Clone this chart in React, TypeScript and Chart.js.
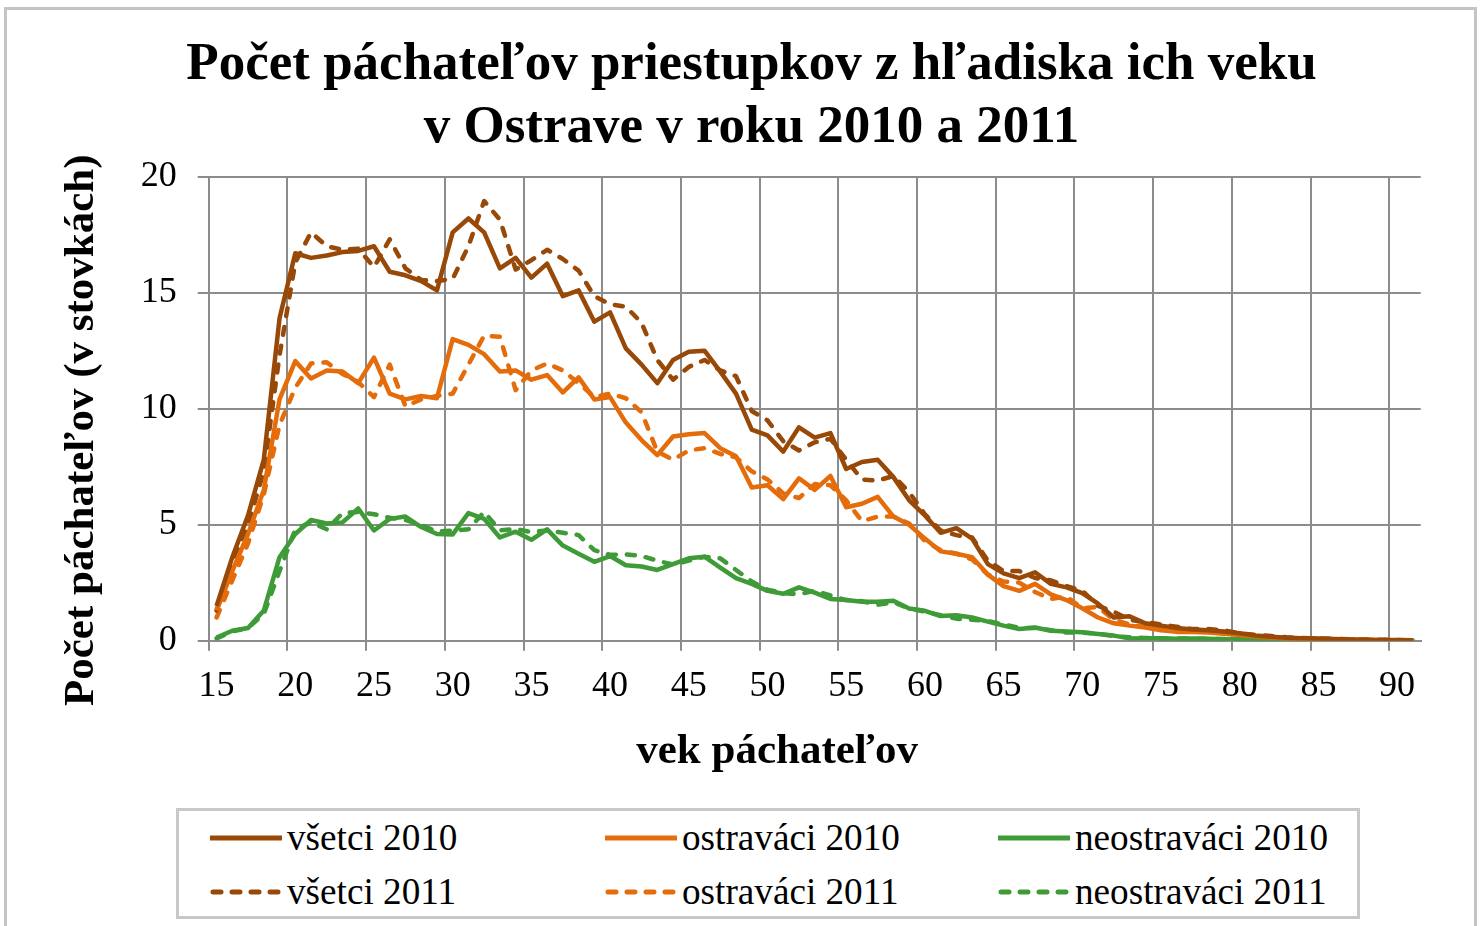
import React, { useEffect, useRef } from "react";
import { Chart, registerables } from "chart.js";

Chart.register(...registerables);

const FONT = "'Liberation Serif', 'Times New Roman', Times, serif";

// Age categories (x axis)
const ages = [
  15, 16, 17, 18, 19, 20, 21, 22, 23, 24,
  25, 26, 27, 28, 29, 30, 31, 32, 33, 34,
  35, 36, 37, 38, 39, 40, 41, 42, 43, 44,
  45, 46, 47, 48, 49, 50, 51, 52, 53, 54,
  55, 56, 57, 58, 59, 60, 61, 62, 63, 64,
  65, 66, 67, 68, 69, 70, 71, 72, 73, 74,
  75, 76, 77, 78, 79, 80, 81, 82, 83, 84,
  85, 86, 87, 88, 89, 90, 91,
];

// x tick labels that are shown
const shownAgeTicks = [15, 20, 25, 30, 35, 40, 45, 50, 55, 60, 65, 70, 75, 80, 85, 90];

// y axis ticks
const yTicks = [0, 5, 10, 15, 20];

const titleLines = [
  "Počet páchateľov priestupkov z hľadiska ich veku",
  "v Ostrave v roku 2010 a 2011",
];
const xTitle = "vek páchateľov";
const yTitle = "Počet páchateľov (v stovkách)";

// values in hundreds
const vsetci2010 = [
  1.5, 3.6, 5.4, 7.8, 13.9, 16.7, 16.5, 16.6, 16.75, 16.8,
  17.0, 15.9, 15.75, 15.5, 15.1, 17.6, 18.2, 17.6, 16.05, 16.5,
  15.65, 16.25, 14.85, 15.1, 13.75, 14.15, 12.6, 11.9, 11.1, 12.1,
  12.45, 12.5, 11.6, 10.65, 9.1, 8.85, 8.15, 9.2, 8.75, 8.95,
  7.4, 7.7, 7.8, 7.05, 6.05, 5.4, 4.65, 4.85, 4.4, 3.3,
  2.9, 2.7, 2.95, 2.45, 2.3, 2.05, 1.6, 1.0, 1.05, 0.75,
  0.65, 0.55, 0.48, 0.45, 0.4, 0.32, 0.22, 0.17, 0.13, 0.11,
  0.09, 0.07, 0.05, 0.04, 0.03, 0.03, 0.02,
];

const vsetci2011 = [
  1.3, 3.4, 5.0, 7.3, 12.3, 16.3, 17.6, 17.0, 16.85, 16.9,
  16.1, 17.3, 16.05, 15.55, 15.5, 15.6, 17.0, 18.95, 18.15, 16.0,
  16.4, 16.85, 16.45, 15.95, 14.85, 14.5, 14.4, 13.7, 12.1, 11.25,
  11.8, 12.1, 11.65, 11.4, 9.9, 9.5, 8.6, 8.2, 8.55, 8.7,
  7.8, 6.95, 6.9, 7.1, 6.4, 5.45, 4.75, 4.55, 4.45, 3.45,
  3.0, 3.0, 2.7, 2.6, 2.35, 2.15, 1.5, 1.25, 0.9, 0.8,
  0.7, 0.6, 0.5, 0.5, 0.45, 0.32, 0.25, 0.2, 0.15, 0.12,
  0.1, 0.08, 0.06, 0.05, 0.04, 0.03, 0.02,
];

const ostravaci2010 = [
  1.3, 3.0, 4.6, 6.5, 10.4, 12.05, 11.3, 11.65, 11.6, 11.1,
  12.2, 10.65, 10.4, 10.55, 10.45, 13.0, 12.75, 12.35, 11.6, 11.65,
  11.25, 11.45, 10.7, 11.35, 10.4, 10.5, 9.4, 8.65, 8.0, 8.8,
  8.9, 8.95, 8.3, 7.95, 6.6, 6.7, 6.1, 7.0, 6.5, 7.1,
  5.75, 5.9, 6.2, 5.35, 5.0, 4.4, 3.85, 3.75, 3.6, 2.85,
  2.35, 2.15, 2.45, 2.0, 1.75, 1.4, 1.0, 0.75, 0.65, 0.57,
  0.45, 0.38, 0.38, 0.35, 0.3, 0.25, 0.18, 0.14, 0.1, 0.08,
  0.07, 0.05, 0.04, 0.03, 0.02, 0.02, 0.01,
];

const ostravaci2011 = [
  1.0, 2.6, 4.2, 6.3, 9.3, 10.9, 11.95, 12.0, 11.5, 11.15,
  10.5, 11.9, 10.1, 10.4, 10.55, 10.65, 11.9, 13.15, 13.1, 10.8,
  11.65, 11.95, 11.65, 11.1, 10.5, 10.65, 10.45, 9.85, 8.15, 7.8,
  8.2, 8.3, 8.05, 7.9, 7.3, 6.95, 6.35, 6.15, 6.75, 6.7,
  6.05, 5.15, 5.35, 5.35, 5.05, 4.3, 3.9, 3.75, 3.5, 2.85,
  2.55, 2.5, 2.1, 1.8, 1.9, 1.4, 1.45, 0.9, 0.7, 0.6,
  0.5, 0.45, 0.4, 0.38, 0.33, 0.27, 0.2, 0.15, 0.12, 0.1,
  0.08, 0.06, 0.05, 0.04, 0.03, 0.02, 0.01,
];

const neostravaci2010 = [
  0.14, 0.43, 0.55, 1.3, 3.6, 4.6, 5.2, 5.05, 5.1, 5.7,
  4.75, 5.25, 5.35, 4.9, 4.6, 4.58, 5.5, 5.25, 4.45, 4.7,
  4.35, 4.8, 4.1, 3.75, 3.4, 3.65, 3.25, 3.2, 3.05, 3.3,
  3.55, 3.62, 3.15, 2.7, 2.45, 2.15, 2.02, 2.3, 2.07, 1.8,
  1.75, 1.68, 1.68, 1.72, 1.39, 1.29, 1.06, 1.1, 1.0, 0.82,
  0.65, 0.5, 0.57, 0.43, 0.4, 0.36, 0.29, 0.22, 0.1, 0.11,
  0.11, 0.08, 0.1, 0.08, 0.06, 0.05, 0.04, 0.03, 0.03, 0.02,
  0.02, 0.02, 0.01, 0.01, 0.01, 0.01, 0.01,
];

const neostravaci2011 = [
  0.1, 0.4, 0.55, 1.15, 3.0, 4.8, 5.1, 4.8, 5.5, 5.55,
  5.45, 5.3, 5.2, 5.0, 4.7, 4.75, 4.8, 5.55, 4.75, 4.82,
  4.68, 4.75, 4.65, 4.55, 3.9, 3.7, 3.72, 3.65, 3.45, 3.28,
  3.45, 3.62, 3.55, 3.05, 2.55, 2.2, 2.05, 2.0, 2.15, 1.95,
  1.75, 1.7, 1.55, 1.65, 1.4, 1.25, 1.1, 0.95, 0.9, 0.85,
  0.7, 0.55, 0.55, 0.45, 0.35, 0.35, 0.3, 0.2, 0.15, 0.12,
  0.1, 0.1, 0.09, 0.08, 0.07, 0.06, 0.05, 0.04, 0.03, 0.03,
  0.02, 0.02, 0.02, 0.01, 0.01, 0.01, 0.01,
];

const BROWN = "#984807";
const ORANGE = "#E46C0A";
const GREEN = "#3F9B37";
const GRID = "#8C8C8C";
const DASH = [8, 11];

type Series = { label: string; data: number[]; color: string; dashed: boolean };

const series: Series[] = [
  { label: "všetci 2010", data: vsetci2010, color: BROWN, dashed: false },
  { label: "ostraváci 2010", data: ostravaci2010, color: ORANGE, dashed: false },
  { label: "neostraváci 2010", data: neostravaci2010, color: GREEN, dashed: false },
  { label: "všetci 2011", data: vsetci2011, color: BROWN, dashed: true },
  { label: "ostraváci 2011", data: ostravaci2011, color: ORANGE, dashed: true },
  { label: "neostraváci 2011", data: neostravaci2011, color: GREEN, dashed: true },
];

const CANVAS_W = 1481;
const CANVAS_H = 926;

function LegendItem({ s, left, top }: { s: Series; left: number; top: number }) {
  return (
    <div
      style={{
        position: "absolute",
        left,
        top,
        height: 50,
        display: "flex",
        alignItems: "center",
        whiteSpace: "nowrap",
      }}
    >
      <svg width={72} height={10} style={{ display: "block", marginRight: 5 }}>
        <line
          x1={s.dashed ? 3 : 0}
          y1={5}
          x2={s.dashed ? 69 : 72}
          y2={5}
          stroke={s.color}
          strokeWidth={5}
          strokeLinecap={s.dashed ? "round" : "butt"}
          strokeDasharray={s.dashed ? "8 11" : undefined}
        />
      </svg>
      <span style={{ fontFamily: FONT, fontSize: 37.2, color: "#000", lineHeight: "50px" }}>
        {s.label}
      </span>
    </div>
  );
}

export default function App() {
  const canvasRef = useRef<HTMLCanvasElement | null>(null);

  useEffect(() => {
    const canvas = canvasRef.current;
    if (!canvas) return;
    const chart = new Chart(canvas, {
      type: "line",
      data: {
        labels: ages.map(String),
        datasets: series.map((s) => ({
          label: s.label,
          data: s.data,
          borderColor: s.color,
          backgroundColor: s.color,
          borderWidth: 4.5,
          borderDash: s.dashed ? DASH : [],
          borderCapStyle: s.dashed ? "round" : "butt",
          borderJoinStyle: "round",
          pointRadius: 0,
          tension: 0,
          fill: false,
        })),
      },
      options: {
        responsive: false,
        animation: false,
        events: [],
        layout: { padding: { left: 82.3, right: 60.3, top: 0, bottom: 145.3 } },
        plugins: {
          legend: { display: false },
          tooltip: { enabled: false },
          title: {
            display: true,
            text: titleLines,
            color: "#000",
            font: { family: FONT, size: 53, weight: "bold", lineHeight: 1.18 },
            padding: { top: 34.3, bottom: 17.3 },
          },
        },
        scales: {
          x: {
            type: "category",
            offset: true,
            grid: {
              offset: true,
              lineWidth: 2,
              tickLength: 10,
              drawTicks: true,
              color: (ctx: any) =>
                typeof ctx.index === "number" && ctx.index % 5 === 0 ? GRID : "rgba(0,0,0,0)",
            },
            border: { display: true, color: GRID, width: 2 },
            ticks: {
              autoSkip: false,
              maxRotation: 0,
              minRotation: 0,
              padding: 14.7,
              color: "#000",
              font: { family: FONT, size: 36, lineHeight: 1.2 },
              callback: (_v: any, i: number) =>
                shownAgeTicks.includes(ages[i]) ? String(ages[i]) : "",
            },
            title: {
              display: true,
              text: xTitle + "       ",
              color: "#000",
              font: { family: FONT, size: 43, weight: "bold", lineHeight: 1.2 },
              padding: { top: 0, bottom: 2.9 },
            },
            afterFit: (s: any) => {
              s.height = 140;
            },
          },
          y: {
            min: yTicks[0],
            max: yTicks[yTicks.length - 1],
            afterBuildTicks: (s: any) => {
              s.ticks = yTicks.map((v) => ({ value: v }));
            },
            grid: { color: GRID, lineWidth: 2, tickLength: 11, drawTicks: true },
            border: { display: true, color: GRID, width: 2 },
            ticks: {
              padding: 21,
              color: "#000",
              font: { family: FONT, size: 36, lineHeight: 1.2 },
            },
            title: {
              display: true,
              text: yTitle + "    ",
              color: "#000",
              font: { family: FONT, size: 43, weight: "bold", lineHeight: 1.2 },
              padding: { top: -25.8, bottom: 0 },
            },
            afterFit: (s: any) => {
              s.width = 126.4;
            },
          },
        },
      } as any,
    });
    return () => chart.destroy();
  }, []);

  const legendLeft = 176;
  const legendTop = 808;
  const colX = [210, 605, 998];
  const rowY = [838, 892];

  return (
    <>
      <div
        style={{
          position: "absolute",
          left: 4,
          top: 7,
          width: 1473,
          height: 919,
          borderLeft: "3px solid #C4C4C4",
          borderTop: "3px solid #C4C4C4",
          borderRight: "3px solid #C4C4C4",
          boxSizing: "border-box",
        }}
      />
      <canvas
        ref={canvasRef}
        width={CANVAS_W}
        height={CANVAS_H}
        style={{ position: "absolute", left: 0, top: 0, width: CANVAS_W, height: CANVAS_H }}
      />
      <div
        style={{
          position: "absolute",
          left: legendLeft,
          top: legendTop,
          width: 1184,
          height: 111,
          border: "3px solid #C8C8C8",
          boxSizing: "border-box",
          background: "#fff",
        }}
      >
        {series.map((s, i) => {
          const col = i % 3;
          const row = Math.floor(i / 3);
          return (
            <LegendItem
              key={s.label}
              s={s}
              left={colX[col] - legendLeft - 3}
              top={rowY[row] - legendTop - 3 - 25}
            />
          );
        })}
      </div>
    </>
  );
}
